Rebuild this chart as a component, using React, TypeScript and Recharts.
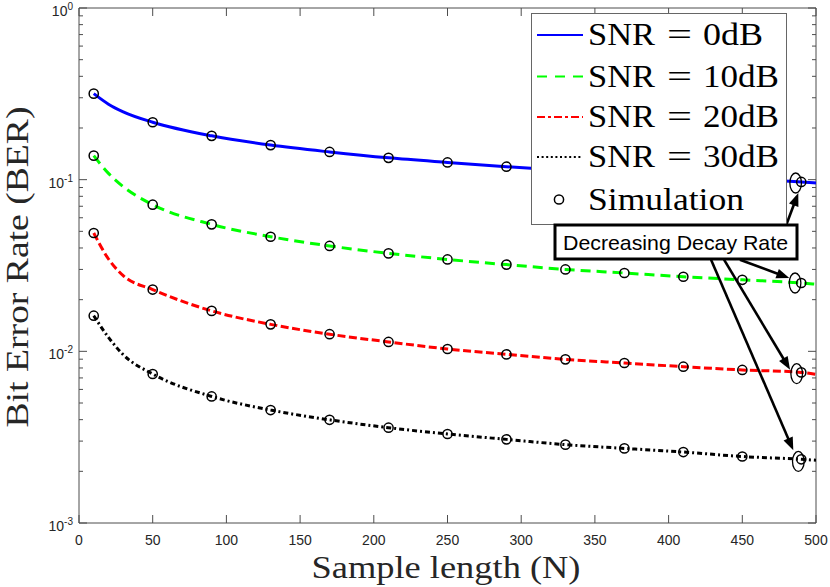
import React from "react";
import {
  ComposedChart,
  Line,
  Scatter,
  XAxis,
  YAxis,
  ReferenceLine,
  ReferenceDot,
} from "recharts";

// ---------- data ----------
const sampleN = [10, 20, 30, 50, 90, 130, 170, 210, 250, 290, 330, 370, 410, 450, 490, 500];
const berSnr0 = [0.317, 0.2753, 0.2483, 0.216, 0.18, 0.159, 0.145, 0.134, 0.126, 0.119, 0.113, 0.108, 0.103, 0.1, 0.097, 0.0956];
const berSnr10 = [0.138, 0.1088, 0.091, 0.0715, 0.0549, 0.0465, 0.0411, 0.0372, 0.0343, 0.032, 0.03, 0.0286, 0.0272, 0.0261, 0.025, 0.0246];
const berSnr20 = [0.0489, 0.0345, 0.0276, 0.0229, 0.0172, 0.01436, 0.01258, 0.01134, 0.01032, 0.0096, 0.00898, 0.00855, 0.00814, 0.00779, 0.00754, 0.00734];
const berSnr30 = [0.01613, 0.01206, 0.00956, 0.00738, 0.00546, 0.00455, 0.00399, 0.00359, 0.0033, 0.00307, 0.00286, 0.00272, 0.00259, 0.00244, 0.00235, 0.00232];

const simN = [10, 50, 90, 130, 170, 210, 250, 290, 330, 370, 410, 450, 490];
const simSnr0 = [0.317, 0.216, 0.18, 0.159, 0.145, 0.134, 0.126, 0.119, 0.113, 0.108, 0.103, 0.1, 0.097];
const simSnr10 = [0.138, 0.0715, 0.0549, 0.0465, 0.0411, 0.0372, 0.0343, 0.032, 0.03, 0.0286, 0.0272, 0.0261, 0.025];
const simSnr20 = [0.0489, 0.0229, 0.0172, 0.01436, 0.01258, 0.01134, 0.01032, 0.0096, 0.00898, 0.00855, 0.00814, 0.00779, 0.00754];
const simSnr30 = [0.01613, 0.00738, 0.00546, 0.00455, 0.00399, 0.00359, 0.0033, 0.00307, 0.00286, 0.00272, 0.00259, 0.00244, 0.00235];

const xTicks = [0, 50, 100, 150, 200, 250, 300, 350, 400, 450, 500];
const yDecades = [0.001, 0.01, 0.1];
const yTicks = [...yDecades.flatMap((d) => [1, 2, 3, 4, 5, 6, 7, 8, 9].map((k) => d * k)), 1];

const legendLabels = ["SNR = 0dB", "SNR = 10dB", "SNR = 20dB", "SNR = 30dB", "Simulation"];
const annotationText = "Decreasing Decay Rate";

// annotation arrows (data coordinates) and highlight ellipses
const arrowStart = [
  { x: 480.1, y: 0.0554 },
  { x: 448.4, y: 0.0342 },
  { x: 437.6, y: 0.0342 },
  { x: 428.8, y: 0.0342 },
];
const arrowEnd = [
  { x: 488, y: 0.0836 },
  { x: 481.9, y: 0.0267 },
  { x: 482.4, y: 0.00782 },
  { x: 484.6, y: 0.00265 },
];
const ellipseX = [486.2, 485.8, 486.9, 488];
const ellipseY = [0.0956, 0.025, 0.00741, 0.002285];

const lineData = sampleN.map((n, i) => ({
  N: n,
  b0: berSnr0[i],
  b10: berSnr10[i],
  b20: berSnr20[i],
  b30: berSnr30[i],
}));
const simData = simN.map((n, i) => ({
  N: n,
  s0: simSnr0[i],
  s10: simSnr10[i],
  s20: simSnr20[i],
  s30: simSnr30[i],
}));

// ---------- layout ----------
const W = 830;
const H = 587;
const MARGIN = { top: 8, right: 14, bottom: 0, left: 0 };
const Y_W = 79;
const X_H = 64;
const PL = MARGIN.left + Y_W;
const PR = W - MARGIN.right;
const PT = MARGIN.top;
const PB = H - MARGIN.bottom - X_H;
const AXIS = "#4d4d4d";
const TXT = "#262626";
const SANS = "'Liberation Sans', Arial, Helvetica, sans-serif";
const SERIF = "'Liberation Serif', 'Times New Roman', serif";

const YTick = (props: any) => {
  const { y, payload } = props;
  const v = payload.value;
  const lg = Math.log10(v);
  const major = Math.abs(lg - Math.round(lg)) < 1e-6;
  const len = major ? 8 : 4;
  return (
    <g>
      <line x1={PL} x2={PL + len} y1={y} y2={y} stroke={AXIS} strokeWidth={1} />
      <line x1={PR} x2={PR - len} y1={y} y2={y} stroke={AXIS} strokeWidth={1} />
      {major && (
        <text x={73} y={y + 8} textAnchor="end" fontFamily={SANS} fontSize={14} fill={TXT}>
          10
          <tspan dy={-6} fontSize={10}>
            {String(Math.round(lg))}
          </tspan>
        </text>
      )}
    </g>
  );
};

const XTick = (props: any) => {
  const { x, payload } = props;
  return (
    <g>
      <line x1={x} x2={x} y1={PB} y2={PB - 8} stroke={AXIS} strokeWidth={1} />
      <line x1={x} x2={x} y1={PT} y2={PT + 8} stroke={AXIS} strokeWidth={1} />
      <text x={x} y={545} textAnchor="middle" fontFamily={SANS} fontSize={14} fill={TXT}>
        {payload.value}
      </text>
    </g>
  );
};

const simCircle = (props: any) => {
  const { cx, cy } = props;
  if (cx == null || cy == null) return <g />;
  return <circle cx={cx} cy={cy} r={4.6} fill="none" stroke="#000" strokeWidth={1.5} />;
};

const ellipseShape = (props: any) => {
  const { cx, cy } = props;
  return <ellipse cx={cx} cy={cy} rx={5.8} ry={10} fill="none" stroke="#000" strokeWidth={1.3} />;
};

const arrowShape = (props: any) => {
  const { x1, y1, x2, y2 } = props;
  if ([x1, y1, x2, y2].some((v) => v == null || isNaN(v))) return <g />;
  const a = Math.atan2(y2 - y1, x2 - x1);
  const hl = 13;
  const hw = 5;
  const bx = x2 - hl * Math.cos(a);
  const by = y2 - hl * Math.sin(a);
  const px = -Math.sin(a) * hw;
  const py = Math.cos(a) * hw;
  return (
    <g>
      <line x1={x1} y1={y1} x2={bx + 2 * Math.cos(a)} y2={by + 2 * Math.sin(a)} stroke="#000" strokeWidth={2.6} />
      <polygon points={`${x2},${y2} ${bx + px},${by + py} ${bx - px},${by - py}`} fill="#000" />
    </g>
  );
};

const series = [
  { key: "b0", sim: "s0", color: "#0000ff", dash: undefined, legendDash: undefined },
  { key: "b10", sim: "s10", color: "#00ff00", dash: "10 6", legendDash: "10 8" },
  { key: "b20", sim: "s20", color: "#ff0000", dash: "8 3.5", legendDash: "8 3 3 3" },
  { key: "b30", sim: "s30", color: "#000000", dash: "5 3 2 3", legendDash: "2 2.6" },
];

const legendY = [35, 76.5, 117, 157, 199.5];
const legendValueLen = [60, 76, 76, 76];

export default function App() {
  return (
    <div style={{ position: "absolute", left: 0, top: 0, width: W, height: H, background: "#fff" }}>
      <ComposedChart width={W} height={H} data={lineData} margin={MARGIN}>
        <XAxis
          dataKey="N"
          type="number"
          domain={[0, 500]}
          ticks={xTicks}
          interval={0}
          allowDataOverflow
          height={X_H}
          tickLine={false}
          axisLine={{ stroke: AXIS, strokeWidth: 1 }}
          tick={<XTick />}
        />
        <YAxis
          type="number"
          scale="log"
          domain={[0.001, 1]}
          ticks={yTicks}
          interval={0}
          allowDataOverflow
          width={Y_W}
          tickLine={false}
          axisLine={{ stroke: AXIS, strokeWidth: 1 }}
          tick={<YTick />}
        />
        <ReferenceLine x={500} stroke={AXIS} strokeWidth={1} />
        <ReferenceLine y={1} stroke={AXIS} strokeWidth={1} />
        {series.map((s) => (
          <Line
            key={s.key}
            type="monotone"
            dataKey={s.key}
            stroke={s.color}
            strokeWidth={3}
            strokeDasharray={s.dash}
            dot={false}
            activeDot={false}
            isAnimationActive={false}
          />
        ))}
        {series.map((s) => (
          <Scatter
            key={s.sim}
            data={simData}
            dataKey={s.sim}
            shape={simCircle}
            isAnimationActive={false}
          />
        ))}
        {ellipseX.map((x, i) => (
          <ReferenceDot key={"e" + i} x={x} y={ellipseY[i]} r={6} shape={ellipseShape} ifOverflow="visible" />
        ))}
        {arrowStart.map((p, i) => (
          <ReferenceLine
            key={"a" + i}
            segment={[p, arrowEnd[i]]}
            ifOverflow="visible"
            shape={arrowShape}
          />
        ))}
      </ComposedChart>
      <svg
        width={W}
        height={H}
        style={{ position: "absolute", left: 0, top: 0, pointerEvents: "none" }}
      >
        {/* axis titles */}
        <text
          x={446}
          y={577.5}
          textAnchor="middle"
          fontFamily={SERIF}
          fontSize={32}
          fill={TXT}
          textLength={269}
          lengthAdjust="spacingAndGlyphs"
        >
          Sample length (N)
        </text>
        <text
          x={0}
          y={0}
          transform="translate(28,267) rotate(-90)"
          textAnchor="middle"
          fontFamily={SERIF}
          fontSize={32}
          fill={TXT}
          textLength={321}
          lengthAdjust="spacingAndGlyphs"
        >
          Bit Error Rate (BER)
        </text>
        {/* legend */}
        <rect x={531.5} y={13.5} width={255} height={211} fill="#fff" stroke="#666" strokeWidth={1} />
        {series.map((s, i) => (
          <g key={"lg" + i}>
            <line
              x1={537}
              x2={583}
              y1={legendY[i]}
              y2={legendY[i]}
              stroke={s.color}
              strokeWidth={2}
              strokeDasharray={s.legendDash}
            />
            <text x={588} y={legendY[i] + 10} fontFamily={SERIF} fontSize={32} fill="#000" textLength={67} lengthAdjust="spacingAndGlyphs">
              SNR
            </text>
            <text x={667} y={legendY[i] + 10} fontFamily={SERIF} fontSize={32} fill="#000" textLength={25} lengthAdjust="spacingAndGlyphs">
              =
            </text>
            <text x={703} y={legendY[i] + 10} fontFamily={SERIF} fontSize={32} fill="#000" textLength={legendValueLen[i]} lengthAdjust="spacingAndGlyphs">
              {legendLabels[i].split("= ")[1]}
            </text>
          </g>
        ))}
        <circle cx={559} cy={legendY[4]} r={4.6} fill="none" stroke="#000" strokeWidth={1.5} />
        <text x={588} y={legendY[4] + 10} fontFamily={SERIF} fontSize={32} fill="#000" textLength={156} lengthAdjust="spacingAndGlyphs">
          {legendLabels[4]}
        </text>
        {/* annotation box */}
        <rect x={555} y={225} width={242} height={34} fill="#fff" stroke="#000" strokeWidth={3} />
        <text x={563} y={250} fontFamily={SANS} fontSize={21} fill="#000" textLength={225} lengthAdjust="spacingAndGlyphs">
          {annotationText}
        </text>
      </svg>
    </div>
  );
}
